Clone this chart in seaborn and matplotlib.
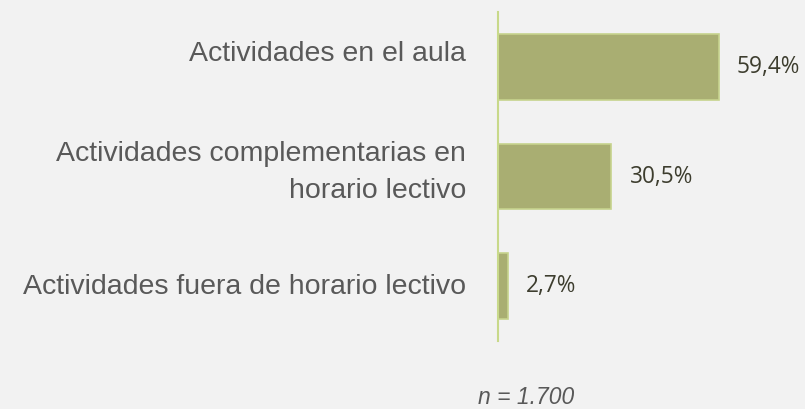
import matplotlib
matplotlib.use("Agg")
import matplotlib.pyplot as plt
import seaborn as sns
import pandas as pd

categories = ["Actividades en el aula",
              "Actividades complementarias en\nhorario lectivo",
              "Actividades fuera de horario lectivo"]
values = [59.4, 30.5, 2.7]
value_labels = ["59,4%", "30,5%", "2,7%"]
note = "n = 1.700"

df = pd.DataFrame({"cat": categories, "val": values})

sns.set_style("white")
plt.rcParams['font.family'] = ['Liberation Sans', 'DejaVu Sans']

bg = "#f2f2f2"
fig = plt.figure(figsize=(8.05, 4.09), dpi=100, facecolor=bg)
ax = fig.add_axes([498/805, 68/409, 297.6/805, 329/409])
ax.set_facecolor(bg)

sns.barplot(data=df, y="cat", x="val", orient="h", ax=ax,
            color="#a9ae72", saturation=1, width=0.6,
            edgecolor="#c6d38d", linewidth=1.2)

ax.set_xlim(0, 80)
ax.set_ylim(2.5, -0.5)
ax.set_xlabel("")
ax.set_ylabel("")
ax.set_xticks([])
for s in ["top", "right", "bottom"]:
    ax.spines[s].set_visible(False)
ax.spines["left"].set_color("#c8d98a")
ax.spines["left"].set_linewidth(1.5)
ax.tick_params(axis="y", length=0, labelleft=False)

# category labels (slightly raised relative to bar centres, as in the reference)
px = 72 / fig.dpi
label_shift = [12.5, 4, -0.5]
for i, (c, dy) in enumerate(zip(categories, label_shift)):
    ax.annotate(c, xy=(0, i), xytext=(-32 * px, dy * px), textcoords="offset points",
                ha="right", va="center", multialignment="right",
                fontsize=20.5, color="#595959", linespacing=1.55)

for i, (v, t) in enumerate(zip(values, value_labels)):
    ax.annotate(t, xy=(v, i), xytext=(13, 0), textcoords="offset points",
                ha="left", va="center", fontsize=16.3, color="#3d3d2e",
                family=["Open Sans", "DejaVu Sans"])

fig.text(526/805, 1 - 398/409, note, ha="center", va="center",
         fontsize=16.5, style="italic", color="#595959")

fig.savefig("out.png", dpi=100, facecolor=bg)
